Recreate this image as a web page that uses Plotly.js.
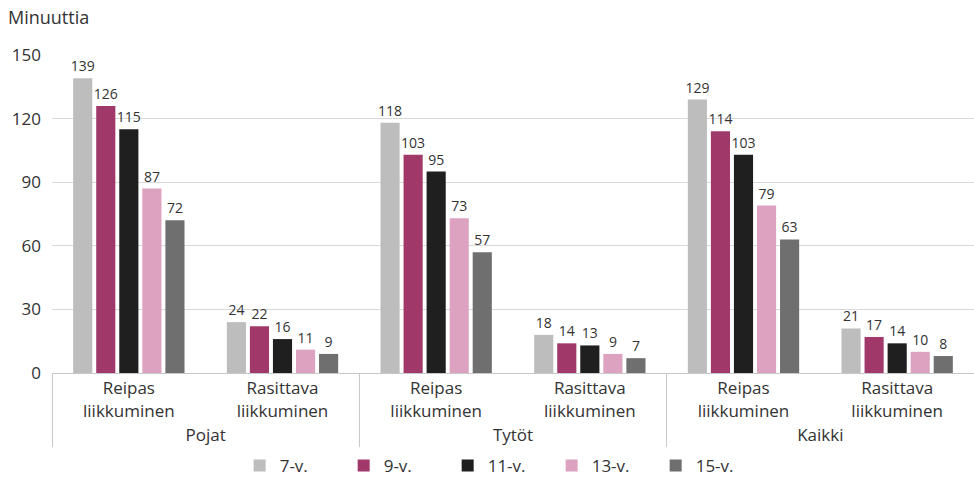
<!DOCTYPE html>
<html><head><meta charset="utf-8">
<script src="https://cdn.plot.ly/plotly-3.0.1.min.js"></script>
<style>body{margin:0;background:#fff}#c{width:974px;height:477px}</style>
</head><body><div id="c"></div>
<script>
const groups = ["Pojat","Pojat","Tytöt","Tytöt","Kaikki","Kaikki"];
const subcats = ["Reipas<br>liikkuminen","Rasittava<br>liikkuminen","Reipas<br>liikkuminen","Rasittava<br>liikkuminen","Reipas<br>liikkuminen","Rasittava<br>liikkuminen"];
const seriesNames = ["7-v.","9-v.","11-v.","13-v.","15-v."];
const v7  = [139,24,118,18,129,21];
const v9  = [126,22,103,14,114,17];
const v11 = [115,16,95,13,103,14];
const v13 = [87,11,73,9,79,10];
const v15 = [72,9,57,7,63,8];
const colors = ["#bdbdbd","#a0396a","#1f1f1f","#dca2c0","#6f6f6f"];
const values = [v7,v9,v11,v13,v15];
const traces = values.map((v,i)=>({
  type:"bar", name:seriesNames[i], x:[groups,subcats], y:v,
  marker:{color:colors[i]}, text:v.map(String), textposition:"outside",
  constraintext:"none",
  textfont:{size:14,color:"#333"}, cliponaxis:false, hoverinfo:"none"
}));
const layout = {
  width:974, height:477,
  margin:{l:52,r:0,t:55,b:104,autoexpand:false},
  font:{family:"Open Sans, sans-serif",color:"#333"},
  barmode:"group", bargap:0.25, bargroupgap:0.17,
  showlegend:true,
  legend:{orientation:"h",xref:"container",yref:"container",x:0.513,xanchor:"center",y:11/477,yanchor:"middle",font:{size:17},entrywidth:59,traceorder:"normal"},
  xaxis:{type:"multicategory",automargin:false,tickfont:{size:17},showline:true,linecolor:"#c8c8c8",showdividers:true,dividercolor:"#c8c8c8",ticks:""},
  yaxis:{range:[0,150],automargin:false,tickvals:[0,30,60,90,120,150],tickfont:{size:17},gridcolor:"#d9d9d9",zeroline:false,showline:false,ticklabelstandoff:10},
  annotations:[{text:"Minuuttia",xref:"paper",yref:"paper",x:-46/922,y:1+38/318,xanchor:"left",yanchor:"middle",showarrow:false,font:{size:18}}]
};
Plotly.newPlot("c",traces,layout,{displayModeBar:false,staticPlot:true});
</script></body></html>
